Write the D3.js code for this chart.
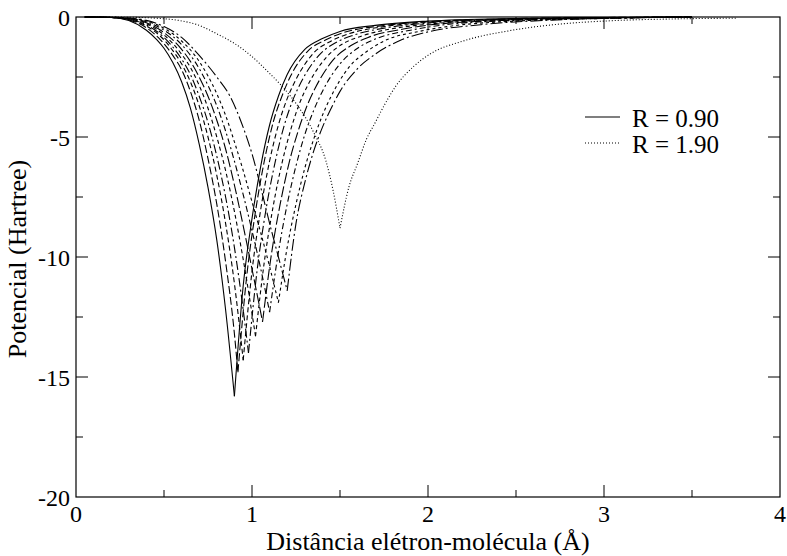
<!DOCTYPE HTML>
<html>
  <head>
    <script src="https://d3js.org/d3.v7.min.js"></script>
    <style>
      body { margin: 0; background: white; }
      svg { display: block; }
      text { font-family: "Liberation Serif", "DejaVu Serif", serif; fill: black; }
      .lbl { font-size: 24px; }
      .leg { font-size: 25px; }
      .ttl { font-size: 26px; }
      .curve { fill: none; stroke: black; stroke-width: 1.1; }
    </style>
    <title>Potencial</title>
  </head>
  <body>
    <svg id="chart"></svg>
    <script>
      // x = distance (Å), y = potential (Hartree)
      var r090 = [[0.05,0],[0.2,-0.02],[0.3,-0.15],[0.4,-0.55],[0.46,-0.95],[0.5,-1.3],[0.55,-1.9],[0.6,-2.7],[0.65,-3.8],[0.7,-5.3],[0.75,-7.1],[0.8,-9.3],[0.85,-12.2],[0.9,-15.8],
                  [0.95,-11.2],[1.0,-8.4],[1.05,-6.2],[1.1,-4.5],[1.15,-3.3],[1.2,-2.4],[1.3,-1.35],[1.4,-0.9],[1.5,-0.6],[1.7,-0.35],[2.0,-0.17],[2.5,-0.06],[3.0,-0.02],[3.5,0]];
      var r100 = [[0.05,0],[0.2,-0.02],[0.3,-0.12],[0.4,-0.45],[0.48,-0.95],[0.55,-1.6],[0.6,-2.2],[0.65,-3.1],[0.7,-4.3],[0.75,-5.9],[0.8,-7.8],[0.85,-10.2],[0.9,-13.2],[0.92,-14.8],
                  [0.97,-10.8],[1.02,-8.1],[1.07,-6.0],[1.12,-4.4],[1.17,-3.3],[1.22,-2.45],[1.32,-1.4],[1.42,-0.95],[1.52,-0.65],[1.72,-0.38],[2.0,-0.2],[2.5,-0.07],[3.0,-0.02],[3.5,0]];
      var r110 = [[0.05,0],[0.2,-0.02],[0.3,-0.1],[0.4,-0.38],[0.5,-0.95],[0.55,-1.4],[0.6,-1.95],[0.65,-2.7],[0.7,-3.7],[0.75,-5.0],[0.8,-6.6],[0.85,-8.6],[0.9,-11.1],[0.95,-14.3],
                  [1.0,-10.6],[1.05,-8.0],[1.1,-6.0],[1.15,-4.5],[1.2,-3.4],[1.25,-2.6],[1.35,-1.5],[1.45,-1.0],[1.55,-0.7],[1.75,-0.4],[2.0,-0.22],[2.5,-0.08],[3.0,-0.03],[3.5,0]];
      var r120 = [[0.05,0],[0.2,-0.02],[0.3,-0.09],[0.4,-0.33],[0.5,-0.85],[0.55,-1.25],[0.6,-1.75],[0.65,-2.4],[0.7,-3.3],[0.75,-4.4],[0.8,-5.8],[0.85,-7.5],[0.9,-9.6],[0.95,-12.2],[0.98,-14.0],
                  [1.03,-10.5],[1.08,-8.0],[1.13,-6.1],[1.18,-4.6],[1.23,-3.5],[1.28,-2.7],[1.38,-1.6],[1.48,-1.05],[1.58,-0.75],[1.78,-0.43],[2.0,-0.25],[2.5,-0.09],[3.0,-0.03],[3.5,0]];
      var r130 = [[0.05,0],[0.2,-0.02],[0.3,-0.08],[0.4,-0.28],[0.5,-0.75],[0.55,-1.1],[0.6,-1.55],[0.65,-2.1],[0.7,-2.85],[0.75,-3.8],[0.8,-5.0],[0.85,-6.4],[0.9,-8.1],[0.95,-10.1],[1.02,-13.3],
                  [1.07,-10.2],[1.12,-7.9],[1.17,-6.1],[1.22,-4.7],[1.27,-3.6],[1.32,-2.8],[1.42,-1.7],[1.52,-1.1],[1.62,-0.8],[1.82,-0.46],[2.0,-0.3],[2.5,-0.1],[3.0,-0.04],[3.5,0]];
      var r140 = [[0.05,0],[0.2,-0.02],[0.3,-0.07],[0.4,-0.24],[0.5,-0.65],[0.6,-1.35],[0.65,-1.85],[0.7,-2.5],[0.75,-3.3],[0.8,-4.3],[0.85,-5.5],[0.9,-7.0],[0.95,-8.7],[1.0,-10.5],[1.06,-12.7],
                  [1.11,-9.9],[1.16,-7.8],[1.21,-6.1],[1.26,-4.8],[1.31,-3.75],[1.36,-2.95],[1.46,-1.8],[1.56,-1.2],[1.66,-0.85],[1.86,-0.5],[2.0,-0.34],[2.5,-0.12],[3.0,-0.04],[3.5,0]];
      var r150 = [[0.05,0],[0.2,-0.02],[0.3,-0.06],[0.4,-0.2],[0.5,-0.55],[0.6,-1.15],[0.7,-2.15],[0.75,-2.85],[0.8,-3.7],[0.85,-4.75],[0.9,-6.0],[0.95,-7.4],[1.0,-8.9],[1.05,-10.5],[1.1,-12.3],
                  [1.15,-9.8],[1.2,-7.8],[1.25,-6.2],[1.3,-4.9],[1.35,-3.9],[1.4,-3.1],[1.5,-1.95],[1.6,-1.3],[1.7,-0.92],[1.9,-0.55],[2.1,-0.32],[2.5,-0.14],[3.0,-0.05],[3.5,0]];
      var r160 = [[0.05,0],[0.2,-0.01],[0.3,-0.05],[0.4,-0.17],[0.5,-0.47],[0.6,-1.0],[0.7,-1.85],[0.8,-3.2],[0.85,-4.1],[0.9,-5.2],[0.95,-6.4],[1.0,-7.7],[1.05,-9.0],[1.1,-10.4],[1.15,-11.9],
                  [1.2,-9.6],[1.25,-7.8],[1.3,-6.3],[1.35,-5.1],[1.4,-4.1],[1.45,-3.3],[1.55,-2.1],[1.65,-1.45],[1.75,-1.0],[1.95,-0.6],[2.15,-0.36],[2.5,-0.17],[3.0,-0.06],[3.5,0]];
      var r170 = [[0.05,0],[0.2,-0.01],[0.3,-0.04],[0.4,-0.14],[0.5,-0.4],[0.6,-0.85],[0.7,-1.6],[0.8,-2.5],[0.875,-3.3],[0.95,-4.6],[1.0,-5.7],[1.06,-7.4],[1.1,-8.6],[1.15,-10.0],[1.2,-11.4],
                  [1.25,-8.6],[1.3,-6.9],[1.35,-5.6],[1.4,-4.6],[1.45,-3.8],[1.5,-3.1],[1.6,-2.15],[1.7,-1.55],[1.85,-0.95],[2.0,-0.62],[2.3,-0.32],[2.7,-0.13],[3.0,-0.06],[3.5,0]];
      var r190 = [[0.05,0],[0.3,-0.01],[0.45,-0.05],[0.59,-0.15],[0.7,-0.35],[0.8,-0.7],[0.9,-1.1],[1.0,-1.65],[1.1,-2.35],[1.16,-2.8],[1.25,-3.6],[1.35,-4.8],[1.42,-6.0],[1.46,-7.2],[1.5,-8.8],
                  [1.55,-7.1],[1.6,-6.1],[1.65,-5.1],[1.7,-4.4],[1.75,-3.7],[1.82,-2.85],[1.92,-2.05],[2.01,-1.55],[2.2,-1.0],[2.48,-0.55],[2.77,-0.28],[3.0,-0.17],[3.4,-0.08],[3.76,-0.05]];

      var seriesData = [r090, r100, r110, r120, r130, r140, r150, r160, r170, r190];
      var dashes = ["none", "8,3", "5,3", "9,3,2,3", "4,3", "11,3", "6,3,2,3", "3,3", "12,3,2,3", "1,2"];
      var xTicks = [0, 1, 2, 3, 4];
      var yTicks = [0, -5, -10, -15, -20];
      var legendLabels = ["R = 0.90", "R = 1.90"];

      var W = 787, H = 556;
      var margin = {left: 76, right: 7, top: 17, bottom: 59};
      var svg = d3.select("#chart").attr("width", W).attr("height", H);

      var x = d3.scaleLinear().domain([0, 4]).range([margin.left, W - margin.right]);
      var y = d3.scaleLinear().domain([-20, 0]).range([H - margin.bottom, margin.top]);

      // curves, split at the cusp so it stays sharp
      var line = d3.line().x(function(d){return x(d[0]);}).y(function(d){return y(d[1]);}).curve(d3.curveMonotoneX);
      seriesData.forEach(function(s, i){
        var m = d3.minIndex(s, function(d){return d[1];});
        [s.slice(0, m + 1), s.slice(m)].forEach(function(part){
          svg.append("path").attr("class", "curve").attr("d", line(part))
            .attr("stroke-dasharray", dashes[i]);
        });
      });

      // frame
      svg.append("rect").attr("x", x(0)).attr("y", y(0)).attr("width", x(4) - x(0)).attr("height", y(-20) - y(0))
        .attr("fill", "none").attr("stroke", "black").attr("stroke-width", 1.2);

      // inward ticks on all four sides
      var xMinor = d3.range(0.5, 4, 1), yMinor = d3.range(-2.5, -20, -5);
      function xt(v, len){
        svg.append("line").attr("x1", x(v)).attr("x2", x(v)).attr("y1", y(-20)).attr("y2", y(-20) - len).attr("stroke", "black");
        svg.append("line").attr("x1", x(v)).attr("x2", x(v)).attr("y1", y(0)).attr("y2", y(0) + len).attr("stroke", "black");
      }
      function yt(v, len){
        svg.append("line").attr("y1", y(v)).attr("y2", y(v)).attr("x1", x(0)).attr("x2", x(0) + len).attr("stroke", "black");
        svg.append("line").attr("y1", y(v)).attr("y2", y(v)).attr("x1", x(4)).attr("x2", x(4) - len).attr("stroke", "black");
      }
      xTicks.slice(1, -1).forEach(function(v){ xt(v, 12); });
      xMinor.forEach(function(v){ xt(v, 7); });
      yTicks.slice(1, -1).forEach(function(v){ yt(v, 12); });
      yMinor.forEach(function(v){ yt(v, 7); });

      svg.selectAll(".xl").data(xTicks).enter().append("text").attr("class", "lbl")
        .attr("x", function(d){return x(d);}).attr("y", y(-20) + 25).attr("text-anchor", "middle")
        .text(function(d){return d;});
      svg.selectAll(".yl").data(yTicks).enter().append("text").attr("class", "lbl")
        .attr("x", x(0) - 6).attr("y", function(d){return y(d) + 9;}).attr("text-anchor", "end")
        .text(function(d){return d;});

      svg.append("text").attr("class", "ttl").attr("x", (x(0) + x(4)) / 2).attr("y", H - 6)
        .attr("text-anchor", "middle").text("Distância elétron-molécula (Å)");
      svg.append("text").attr("class", "ttl").attr("transform", "translate(" + 26 + "," + 259 + ") rotate(-90)")
        .attr("text-anchor", "middle").text("Potencial (Hartree)");

      // legend
      var lg = svg.append("g").selectAll("g").data(legendLabels).enter().append("g")
        .attr("transform", function(d, i){return "translate(585," + (117 + i * 26) + ")";});
      lg.append("line").attr("x1", 0).attr("x2", 35).attr("stroke", "black").attr("stroke-width", 1.1)
        .attr("stroke-dasharray", function(d, i){return i === 0 ? "none" : "1,2";});
      lg.append("text").attr("class", "leg").attr("x", 47).attr("y", 10).text(function(d){return d;});
    </script>
  </body>
</html>
